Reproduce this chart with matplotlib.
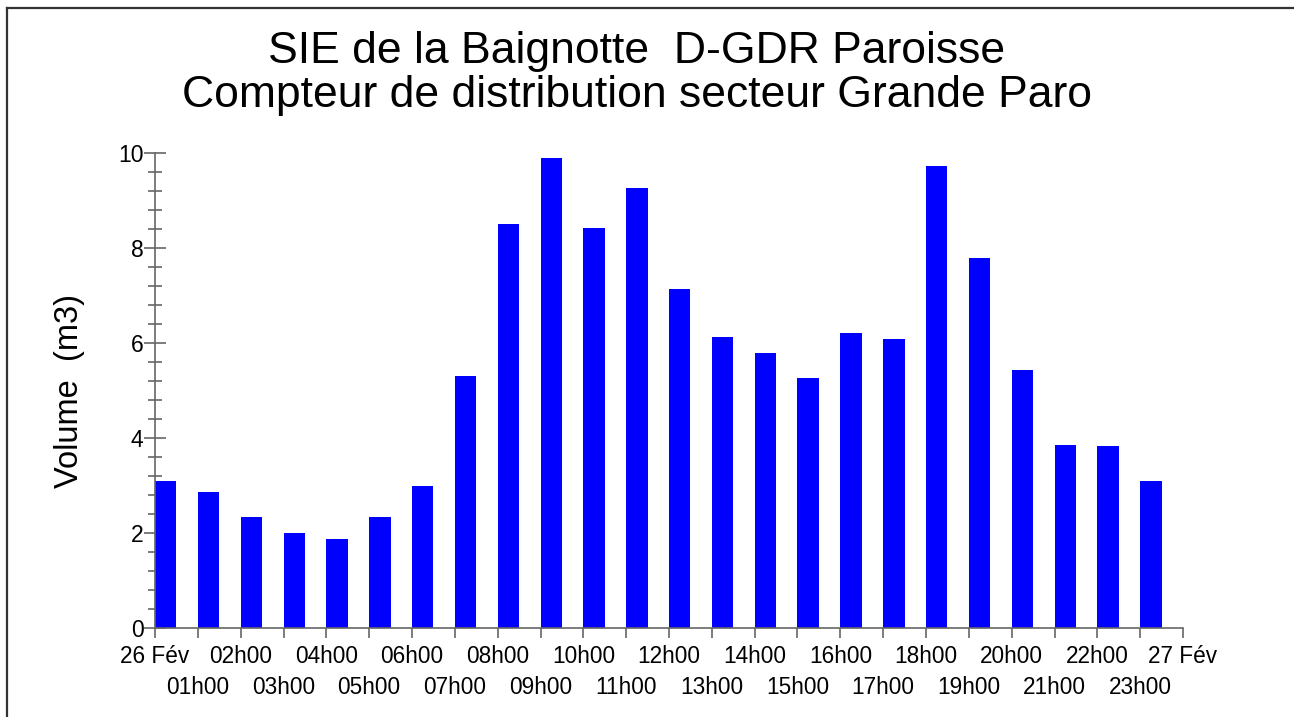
import numpy as np
import matplotlib.pyplot as plt
from matplotlib.lines import Line2D
from matplotlib.ticker import MultipleLocator

plt.rcParams['font.family'] = ['Liberation Sans', 'DejaVu Sans']

# Volumes horaires du 26 février (m3), une barre par heure
heures = list(range(24))
volumes = [3.10, 2.86, 2.34, 2.00, 1.87, 2.34, 2.99, 5.30, 8.50, 9.89, 8.42, 9.26,
           7.14, 6.13, 5.79, 5.26, 6.21, 6.08, 9.73, 7.79, 5.43, 3.85, 3.83, 3.09]
etiquettes_paires = ['26 Fév', '02h00', '04h00', '06h00', '08h00', '10h00', '12h00',
                     '14h00', '16h00', '18h00', '20h00', '22h00', '27 Fév']
etiquettes_impaires = ['01h00', '03h00', '05h00', '07h00', '09h00', '11h00',
                       '13h00', '15h00', '17h00', '19h00', '21h00', '23h00']
titre = 'SIE de la Baignotte  D-GDR Paroisse\nCompteur de distribution secteur Grande Paro'

W, H = 1294, 717
fig = plt.figure(figsize=(W / 100, H / 100), dpi=100)
ax = fig.add_axes([155 / W, (H - 628) / H, (1183 - 155) / W, (628 - 153) / H])

ax.bar(heures, volumes, width=0.5, align='edge', color='#0000ff', zorder=2)

ax.set_xlim(0, 24)
ax.set_ylim(0, 10)
grey = '#666666'
for side in ['top', 'right']:
    ax.spines[side].set_visible(False)
for side in ['left', 'bottom']:
    ax.spines[side].set_color(grey)
    ax.spines[side].set_linewidth(1.2)

ax.yaxis.set_major_locator(MultipleLocator(2))
ax.yaxis.set_minor_locator(MultipleLocator(0.4))
ax.tick_params(axis='y', which='major', direction='inout', length=16.5, width=1.2,
               color=grey, labelsize=16.5, pad=0)
ax.tick_params(axis='y', which='minor', direction='inout', length=9.5, width=1.2,
               color=grey)

ax.set_xticks(range(0, 25, 2))
ax.set_xticklabels(etiquettes_paires)
ax.set_xticks(range(1, 24, 2), minor=True)
ax.set_xticklabels(etiquettes_impaires, minor=True)
ax.tick_params(axis='x', which='both', direction='out', length=7.5, width=1.2,
               color=grey, labelsize=16.3)
ax.tick_params(axis='x', which='major', pad=5)
ax.tick_params(axis='x', which='minor', pad=27)

ax.set_ylabel('Volume  (m3)', fontsize=23.5, labelpad=24)

fig.text(637 / W, 1 - 73.5 / H, titre, ha='center', va='center', fontsize=32,
         linespacing=1.12)

# cadre de la capture (gauche et haut)
fig.add_artist(Line2D([6.5 / W, 6.5 / W], [0, 1 - 7.5 / H], transform=fig.transFigure,
                      color='#333333', lw=1.6))
fig.add_artist(Line2D([6.5 / W, 1], [1 - 7.5 / H, 1 - 7.5 / H], transform=fig.transFigure,
                      color='#333333', lw=1.6))

fig.savefig('out.png', dpi=100)
